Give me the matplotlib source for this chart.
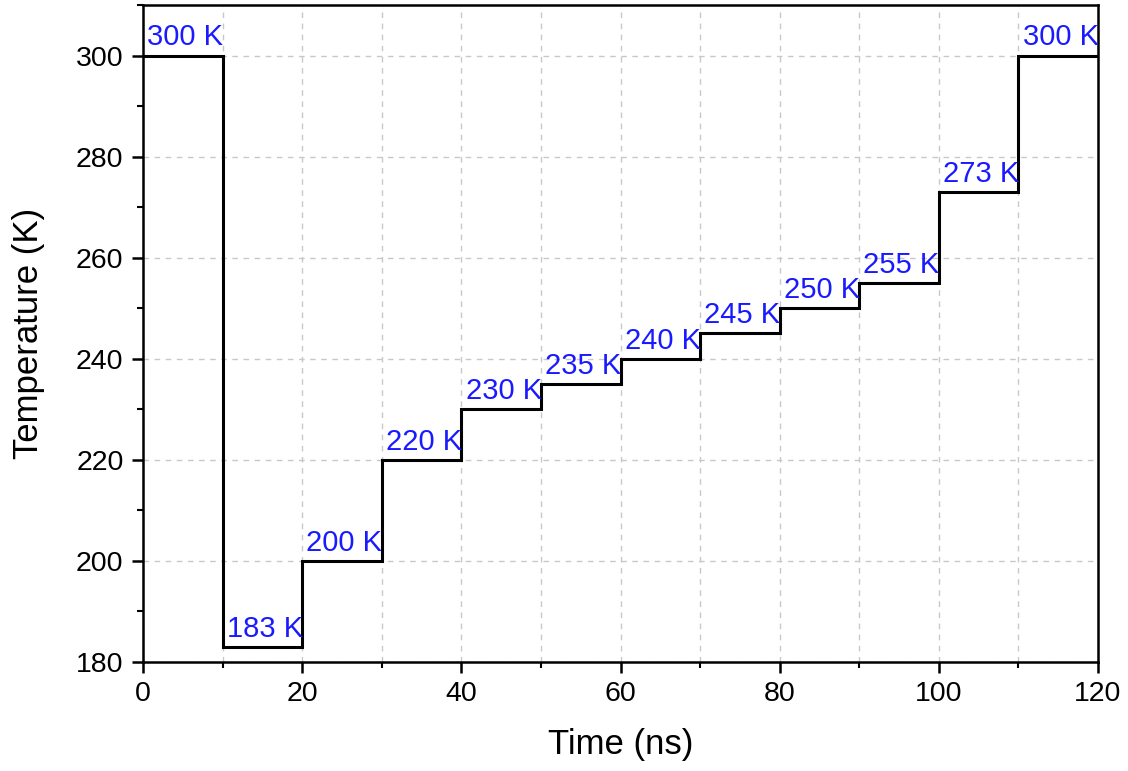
import numpy as np
import matplotlib.pyplot as plt
from matplotlib.ticker import MultipleLocator

plt.rcParams['font.family'] = ['Liberation Sans', 'DejaVu Sans']

# Step edges (ns) and temperature of each step (K)
edges = [0, 10, 20, 30, 40, 50, 60, 70, 80, 90, 100, 110, 120]
temps = [300, 183, 200, 220, 230, 235, 240, 245, 250, 255, 273, 300]
labels = ['%d K' % t for t in temps]

fig = plt.figure(figsize=(11.28, 7.71), dpi=100)
ax = fig.add_axes([0.1268, 0.1414, 0.8466, 0.8521])

ax.stairs(temps, edges, baseline=None, color='black', linewidth=2.2, zorder=3)

# labels just above the left end of each step
for x0, t, lab in zip(edges[:-1], temps, labels):
    ax.annotate(lab, (x0, t), xytext=(3, 3), textcoords='offset points',
                ha='left', va='bottom', color='#1a1aff', fontsize=21)

ax.set_xlim(0, 120)
ax.set_ylim(180, 310)
ax.xaxis.set_major_locator(MultipleLocator(20))
ax.xaxis.set_minor_locator(MultipleLocator(10))
ax.yaxis.set_major_locator(MultipleLocator(20))
ax.yaxis.set_minor_locator(MultipleLocator(10))

ax.grid(True, which='both', axis='x', color='#c8c8c8', linestyle=(0, (4, 4)), linewidth=1.0)
ax.grid(True, which='major', axis='y', color='#c8c8c8', linestyle=(0, (4, 4)), linewidth=1.0)
ax.set_axisbelow(True)

ax.tick_params(which='major', direction='out', length=8, width=1.8, labelsize=20.5, pad=6)
ax.tick_params(which='minor', direction='out', length=4, width=1.5)
for s in ax.spines.values():
    s.set_linewidth(1.8)

ax.set_xlabel('Time (ns)', fontsize=25, labelpad=15)
ax.set_ylabel('Temperature (K)', fontsize=25, labelpad=22)

fig.savefig('out.png', dpi=100)
